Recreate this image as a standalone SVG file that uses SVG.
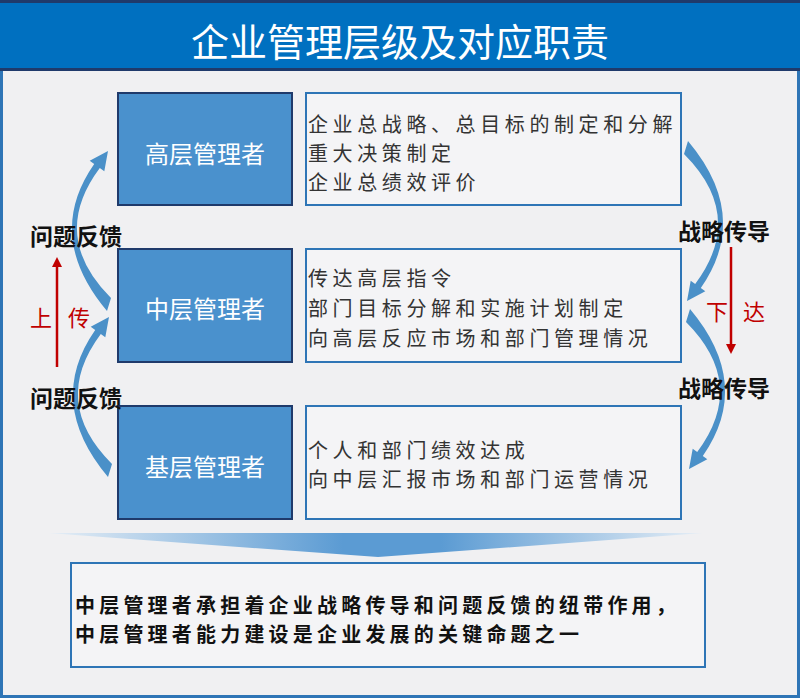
<svg xmlns="http://www.w3.org/2000/svg" width="800" height="698" viewBox="0 0 800 698">
<style>
.f{font-family:"Noto Sans CJK SC","Noto Sans CJK TC",sans-serif}
.lvl{fill:#4A91CD;stroke:#1F3A6B;stroke-width:2}
.lvlt{fill:#FFFFFF;font-size:24px;text-anchor:middle;dominant-baseline:central}
.desc{fill:#F4F4F6;stroke:#2E75B6;stroke-width:2}
.dt{fill:#333333;font-size:20px;letter-spacing:4.6px;dominant-baseline:central}
.lab{fill:#111111;font-size:23px;font-weight:bold;text-anchor:middle;dominant-baseline:central}
.red{fill:#C00000;font-size:22px;text-anchor:middle;dominant-baseline:central}
.sum{fill:#111111;font-size:20px;font-weight:bold;letter-spacing:4.2px;dominant-baseline:central}
.arc{fill:#4A90C8}
</style>
<defs>
<linearGradient id="chev" x1="0" y1="0" x2="1" y2="0">
<stop offset="0" stop-color="#E6EEF6"/>
<stop offset="0.45" stop-color="#5B9BD3"/>
<stop offset="0.6" stop-color="#5B9BD3"/>
<stop offset="1" stop-color="#E6EEF6"/>
</linearGradient>
<path id="curve" class="arc" d="M 107 311 Q 44 236 94.2 164 L 89.7 160.8 L 108 151 L 104.3 171.2 L 99.8 168 Q 49 236 111 298 Z"/>
<marker id="rh" viewBox="0 0 10 10" refX="5" refY="5" markerWidth="4" markerHeight="4" orient="auto" markerUnits="strokeWidth">
<path d="M0 0 L10 5 L0 10 Z" fill="#C00000"/>
</marker>
</defs>

<rect x="0" y="0" width="800" height="698" fill="#2E75B6"/>
<rect x="3" y="71" width="794" height="624" fill="#F0F0F2"/>
<g id="title">
<rect x="0" y="0" width="800" height="71" fill="#1F3A6B"/>
<rect x="0" y="3" width="800" height="65" fill="#0070C0"/>
<text class="f" x="400" y="39" fill="#FFFFFF" font-size="38" text-anchor="middle" dominant-baseline="central">企业管理层级及对应职责</text>
</g>

<g id="connectors">
<use href="#curve"/>
<use href="#curve" transform="translate(1,166)"/>
<use href="#curve" transform="rotate(180 397.5 226)"/>
<use href="#curve" transform="translate(2,168) rotate(180 397.5 226)"/>
<line x1="57" y1="367" x2="57" y2="262" stroke="#C00000" stroke-width="2.5" marker-end="url(#rh)"/>
<line x1="731" y1="247" x2="731" y2="349" stroke="#C00000" stroke-width="2.5" marker-end="url(#rh)"/>
<path d="M 48 533 L 703 533 L 378 557 Z" fill="url(#chev)"/>
</g>

<g id="top-level">
<rect class="lvl" x="118" y="93" width="174" height="112"/>
<text class="f lvlt" x="205" y="152">高层管理者</text>
</g>
<g id="top-duties">
<rect class="desc" x="306" y="93" width="375" height="112"/>
<text class="f dt" x="308" y="123">企业总战略、总目标的制定和分解</text>
<text class="f dt" x="308" y="152">重大决策制定</text>
<text class="f dt" x="308" y="181">企业总绩效评价</text>
</g>
<g id="mid-level">
<rect class="lvl" x="118" y="249" width="174" height="113"/>
<text class="f lvlt" x="205" y="307">中层管理者</text>
</g>
<g id="mid-duties">
<rect class="desc" x="306" y="249" width="375" height="113"/>
<text class="f dt" x="308" y="277">传达高层指令</text>
<text class="f dt" x="308" y="307">部门目标分解和实施计划制定</text>
<text class="f dt" x="308" y="337">向高层反应市场和部门管理情况</text>
</g>
<g id="base-level">
<rect class="lvl" x="118" y="406" width="174" height="113"/>
<text class="f lvlt" x="205" y="465">基层管理者</text>
</g>
<g id="base-duties">
<rect class="desc" x="306" y="406" width="375" height="113"/>
<text class="f dt" x="308" y="449">个人和部门绩效达成</text>
<text class="f dt" x="308" y="478">向中层汇报市场和部门运营情况</text>
</g>

<g id="labels">
<text class="f lab" x="76" y="235">问题反馈</text>
<text class="f lab" x="76" y="397">问题反馈</text>
<text class="f lab" x="724" y="230">战略传导</text>
<text class="f lab" x="724" y="387">战略传导</text>
<text class="f red" x="41" y="316">上</text>
<text class="f red" x="79" y="316">传</text>
<text class="f red" x="717" y="310">下</text>
<text class="f red" x="754" y="310">达</text>
</g>

<g id="summary">
<rect x="71" y="563" width="634" height="104" fill="#F4F4F6" stroke="#2E75B6" stroke-width="2"/>
<text class="f sum" x="75" y="604">中层管理者承担着企业战略传导和问题反馈的纽带作用，</text>
<text class="f sum" x="75" y="633">中层管理者能力建设是企业发展的关键命题之一</text>
</g>
</svg>
